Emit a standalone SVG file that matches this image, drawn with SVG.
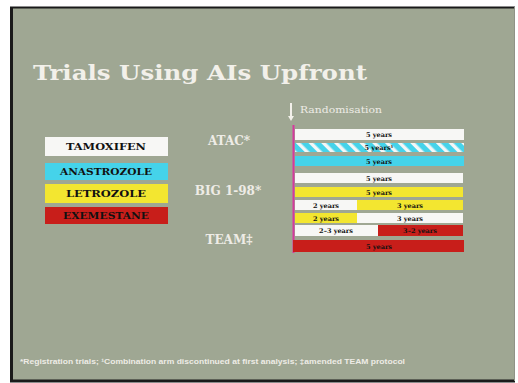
<svg xmlns="http://www.w3.org/2000/svg" width="518" height="383" viewBox="0 0 518 383">
<defs>
<style>
.bg{fill:#9fa793}
.ttl{font-family:"DejaVu Serif","Liberation Serif",serif;font-weight:bold;fill:#f2f0ea}
.lg{font-family:"DejaVu Serif","Liberation Serif",serif;font-weight:bold;font-size:9px;fill:#111;text-anchor:middle}
.bt{font-family:"DejaVu Serif","Liberation Serif",serif;font-weight:bold;font-size:6.5px;fill:#111;text-anchor:middle}
.tr{font-family:"DejaVu Serif","Liberation Serif",serif;font-weight:bold;font-size:12px;fill:#eeece6;text-anchor:middle}
.w{fill:#f7f7f5}
.c{fill:#45d3ea}
.y{fill:#f3e630}
.r{fill:#c81e1a}
</style>
<pattern id="hatch" width="9" height="9" patternUnits="userSpaceOnUse" patternTransform="rotate(-45)">
<rect width="9" height="9" fill="#45d3ea"/>
<rect width="3.5" height="9" fill="#f4f7f7"/>
</pattern>
</defs>
<rect width="518" height="383" fill="#ffffff"/>
<rect x="10" y="7" width="505" height="374" class="bg"/>
<path d="M11.5,7 V381 H515" fill="none" stroke="#1a1a1a" stroke-width="3"/>
<path d="M10,7.5 H515" fill="none" stroke="#1a1a1a" stroke-width="2"/>
<path d="M514.5,7 V381" fill="none" stroke="#8f9386" stroke-width="1"/>

<g id="title">
<text class="ttl" x="33" y="80" font-size="21" textLength="334" lengthAdjust="spacingAndGlyphs">Trials Using AIs Upfront</text>
</g>

<g id="legend">
<g id="leg-tamoxifen"><rect x="45" y="137" width="123" height="19" class="w"/><text class="lg" x="106" y="150" textLength="80" lengthAdjust="spacingAndGlyphs">TAMOXIFEN</text></g>
<g id="leg-anastrozole"><rect x="45" y="163" width="123" height="17" class="c"/><text class="lg" x="106" y="175" textLength="92" lengthAdjust="spacingAndGlyphs">ANASTROZOLE</text></g>
<g id="leg-letrozole"><rect x="45" y="184" width="123" height="19" class="y"/><text class="lg" x="106" y="197" textLength="80" lengthAdjust="spacingAndGlyphs">LETROZOLE</text></g>
<g id="leg-exemestane"><rect x="45" y="207" width="123" height="17" class="r"/><text class="lg" x="106" y="219" textLength="86" lengthAdjust="spacingAndGlyphs">EXEMESTANE</text></g>
</g>

<g id="trial-labels">
<text class="tr" id="atac" x="229" y="145">ATAC*</text>
<text class="tr" id="big198" x="228" y="195">BIG 1-98*</text>
<text class="tr" id="team" x="229" y="244">TEAM‡</text>
</g>

<g id="connectors">
<line x1="291" y1="103" x2="291" y2="117" stroke="#f2f0ea" stroke-width="2"/>
<polygon points="288,116 294,116 291,121" fill="#f2f0ea"/>
<line x1="293.5" y1="125" x2="293.5" y2="253" stroke="#d6389e" stroke-width="2"/>
</g>
<g id="randomisation">
<text x="300" y="113" font-family="DejaVu Serif, Liberation Serif, serif" font-size="9" fill="#eeece6" textLength="82" lengthAdjust="spacingAndGlyphs">Randomisation</text>
</g>

<g id="atac-bars">
<g id="atac-1"><rect x="295" y="129" width="169" height="11" class="w"/><text class="bt" x="379" y="137">5 years</text></g>
<g id="atac-2"><rect x="295" y="143" width="169" height="9" fill="url(#hatch)"/><text class="bt" x="379" y="150">5 years¹</text></g>
<g id="atac-3"><rect x="295" y="156" width="169" height="10" class="c"/><text class="bt" x="379" y="163.5">5 years</text></g>
</g>

<g id="big-bars">
<g id="big-1"><rect x="295" y="173" width="168" height="10" class="w"/><text class="bt" x="379" y="180.5">5 years</text></g>
<g id="big-2"><rect x="295" y="187" width="168" height="10" class="y"/><text class="bt" x="379" y="194.5">5 years</text></g>
<g id="big-3"><rect x="295" y="200" width="62" height="10" class="w"/><rect x="357" y="200" width="106" height="10" class="y"/><text class="bt" x="326" y="207.5">2 years</text><text class="bt" x="410" y="207.5">3 years</text></g>
<g id="big-4"><rect x="295" y="213" width="62" height="10" class="y"/><rect x="357" y="213" width="106" height="10" class="w"/><text class="bt" x="326" y="220.5">2 years</text><text class="bt" x="410" y="220.5">3 years</text></g>
</g>

<g id="team-bars">
<g id="team-1"><rect x="295" y="225" width="83" height="11" class="w"/><rect x="378" y="225" width="85" height="11" class="r"/><text class="bt" x="336" y="233">2–3 years</text><text class="bt" x="420" y="233">3–2 years</text></g>
<g id="team-2"><rect x="293" y="240" width="171" height="12" class="r"/><text class="bt" x="379" y="248.5">5 years</text></g>
</g>

<g id="footnote">
<text x="20" y="364" font-family="Liberation Sans, Arial, sans-serif" font-weight="bold" font-size="7.5" fill="#eeece6" textLength="385" lengthAdjust="spacingAndGlyphs">*Registration trials; ¹Combination arm discontinued at first analysis; ‡amended TEAM protocol</text>
</g>
</svg>
